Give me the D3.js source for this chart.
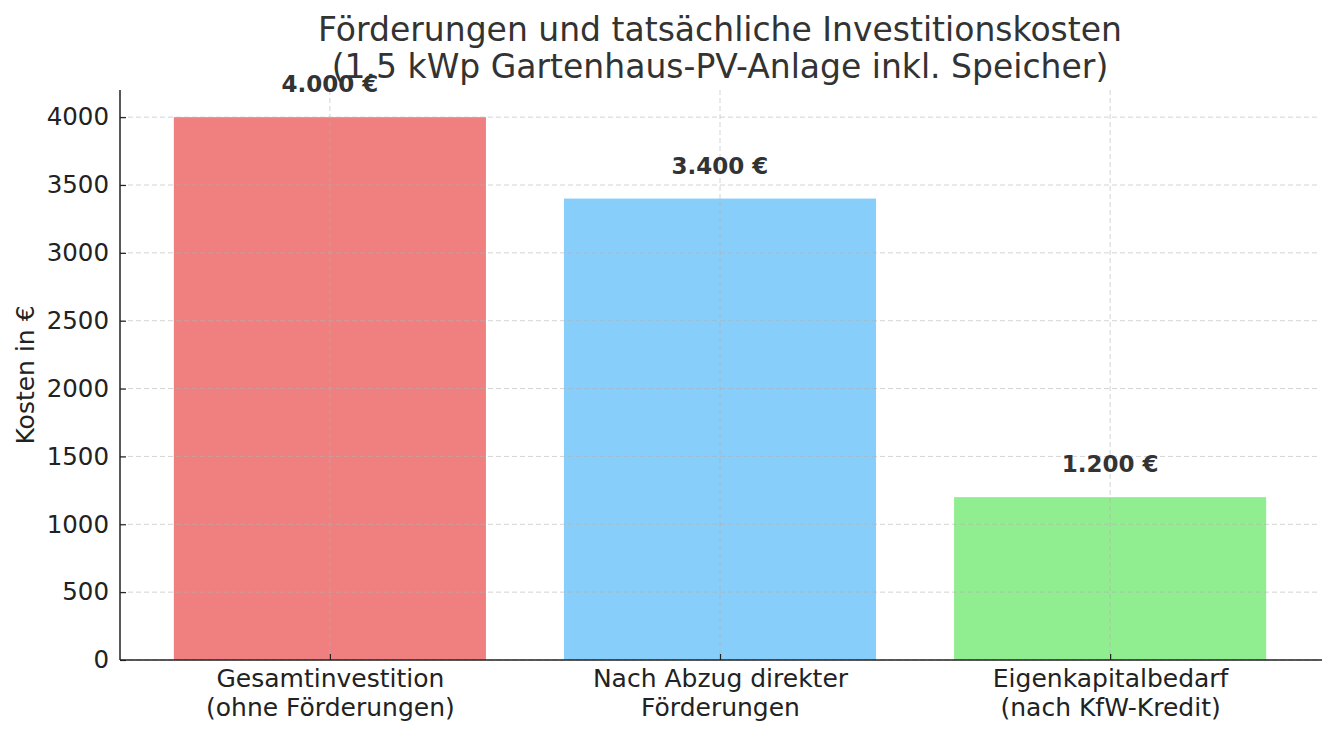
<!DOCTYPE html>
<html><head><meta charset="utf-8">
<script src="https://cdn.jsdelivr.net/npm/d3@7"></script>
<style>body{margin:0;background:#fff}svg{display:block}text{font-family:"DejaVu Sans",sans-serif}</style>
</head><body><svg id="c" width="1336" height="736"></svg>
<script>
const categories = [["Gesamtinvestition","(ohne Förderungen)"],["Nach Abzug direkter","Förderungen"],["Eigenkapitalbedarf","(nach KfW-Kredit)"]];
const values = [4000, 3400, 1200];
const valueLabels = ["4.000 €","3.400 €","1.200 €"];
const colors = ["#F08080","#87CEFA","#90EE90"];
const yTicks = [0,500,1000,1500,2000,2500,3000,3500,4000];
const titleLines = ["Förderungen und tatsächliche Investitionskosten","(1.5 kWp Gartenhaus-PV-Anlage inkl. Speicher)"];
const yLabel = "Kosten in €";

const svg = d3.select("#c");
const L=120,R=1320,T=90,B=660;
const x = d3.scaleBand().domain(d3.range(values.length)).range([L,R]).paddingInner(0.2).paddingOuter(0.138);
const y = d3.scaleLinear().domain([0,4200]).range([B,T]);
const cx = i => x(i)+x.bandwidth()/2;

// bars
svg.selectAll("rect.bar").data(values).join("rect").attr("class","bar")
  .attr("x",(d,i)=>x(i)).attr("width",x.bandwidth())
  .attr("y",d=>y(d)).attr("height",d=>B-y(d)).attr("fill",(d,i)=>colors[i]);

// grid
const g = svg.append("g").attr("stroke","#b0b0b0").attr("stroke-opacity",0.55).attr("stroke-width",1).attr("stroke-dasharray","5,3");
g.selectAll("line.h").data(yTicks).join("line").attr("x1",L).attr("x2",R).attr("y1",d=>y(d)).attr("y2",d=>y(d));
g.selectAll("line.v").data(values).join("line").attr("x1",(d,i)=>cx(i)).attr("x2",(d,i)=>cx(i)).attr("y1",T).attr("y2",B);

// axes
const ya = svg.append("g").attr("transform",`translate(${L},0)`)
  .call(d3.axisLeft(y).tickValues(yTicks).tickFormat(d3.format("d")).tickSizeInner(-6).tickSizeOuter(0).tickPadding(11));
ya.select(".domain").remove();
ya.selectAll("text").attr("font-size",24.5).attr("fill","#222").attr("font-family","DejaVu Sans");
ya.selectAll(".tick line").attr("stroke","#222").attr("stroke-width",1.2);
const xa = svg.append("g").attr("transform",`translate(0,${B})`)
  .call(d3.axisBottom(d3.scaleOrdinal().domain(d3.range(values.length)).range(values.map((d,i)=>cx(i)))).tickSizeInner(-6).tickSizeOuter(0).tickFormat(""));
xa.select(".domain").remove();
xa.selectAll(".tick line").attr("stroke","#222").attr("stroke-width",1.2);
xa.selectAll(".tick").each(function(d){
  const t=d3.select(this).append("text").attr("fill","#222").attr("font-size",25).attr("text-anchor","middle").attr("font-family","DejaVu Sans");
  categories[d].forEach((s,k)=>t.append("tspan").attr("x",0).attr("y",27+k*29).text(s));
});
svg.append("line").attr("x1",L).attr("x2",L).attr("y1",T).attr("y2",B).attr("stroke","#222").attr("stroke-width",1.5);
svg.append("line").attr("x1",L).attr("x2",R+2).attr("y1",B).attr("y2",B).attr("stroke","#222").attr("stroke-width",1.5);

// value labels
svg.selectAll("text.vl").data(values).join("text").attr("class","vl")
  .attr("x",(d,i)=>cx(i)).attr("y",d=>y(d)-25).attr("text-anchor","middle")
  .attr("font-size",23).attr("font-weight","bold").attr("fill","#333").text((d,i)=>valueLabels[i]);

// y label
svg.append("text").attr("transform",`translate(34,${(T+B)/2}) rotate(-90)`).attr("text-anchor","middle")
  .attr("font-size",25).attr("fill","#222").text(yLabel);

// title
svg.selectAll("text.title").data(titleLines).join("text").attr("class","title")
  .attr("x",(L+R)/2).attr("y",(d,i)=>41+i*37).attr("text-anchor","middle")
  .attr("font-size",33).attr("fill","#333").text(d=>d);
</script></body></html>
